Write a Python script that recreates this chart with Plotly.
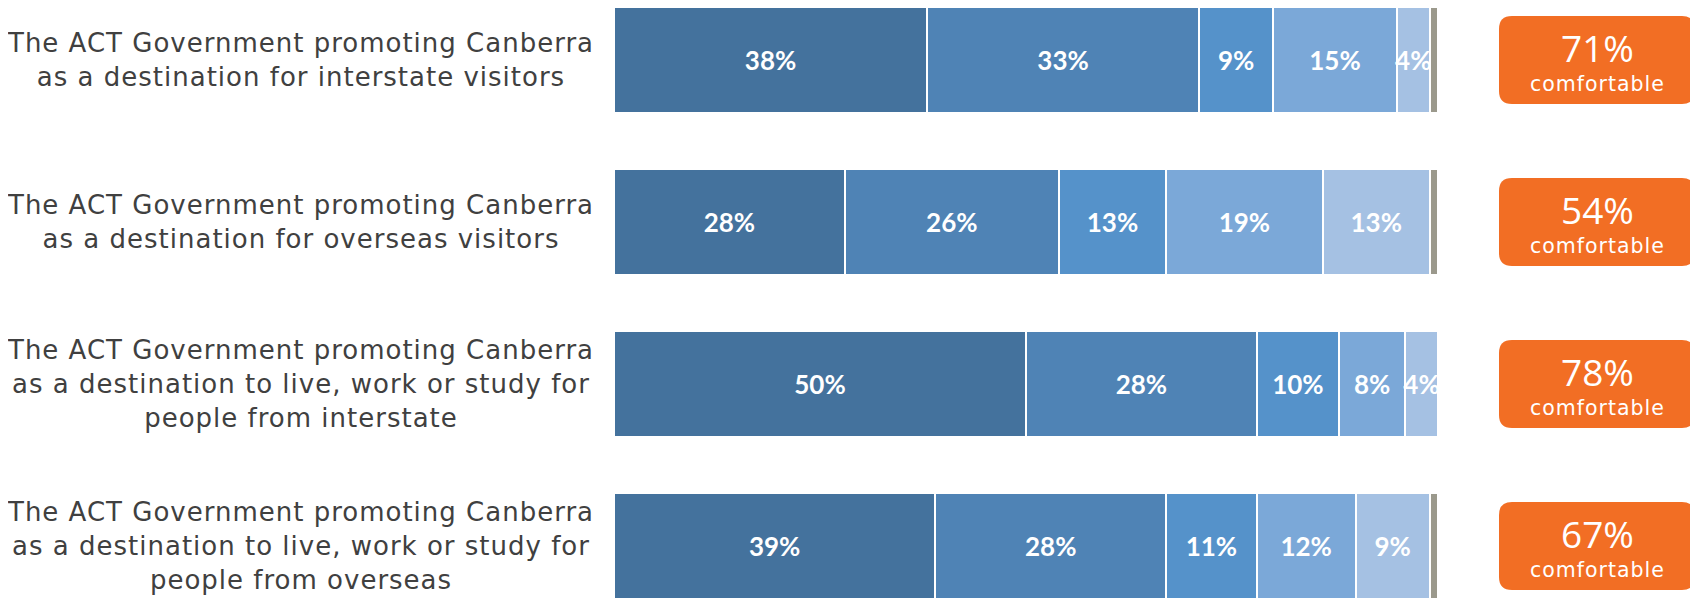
import plotly.graph_objects as go

# ---------------- data ----------------
labels = [
    "The ACT Government promoting Canberra<br>as a destination for interstate visitors",
    "The ACT Government promoting Canberra<br>as a destination for overseas visitors",
    "The ACT Government promoting Canberra<br>as a destination to live, work or study for<br>people from interstate",
    "The ACT Government promoting Canberra<br>as a destination to live, work or study for<br>people from overseas",
]
series_names = ["Very comfortable", "Somewhat comfortable", "Neither", "Somewhat uncomfortable",
                "Very uncomfortable", "Don't know"]
very_comfortable = [38, 28, 50, 39]
somewhat_comfortable = [33, 26, 28, 28]
neither = [9, 13, 10, 11]
somewhat_uncomfortable = [15, 19, 8, 12]
very_uncomfortable = [4, 13, 4, 9]
dont_know = [1, 1, 0, 1]
comfortable_total = [71, 54, 78, 67]

colors = ["#44729D", "#4F83B5", "#5592CA", "#7BA8D8", "#A5C1E3", "#9B998C"]

# ---------------- figure ----------------
W, H = 1690, 591            # page body adds an 8px margin
ML = 606
PX_PER_UNIT = 8.24          # pixels per percentage point
ROW_PX = 162                # pixels per row
XMAX = (W - ML) / PX_PER_UNIT
y0 = -52 / ROW_PX
y1 = y0 + H / ROW_PX

ypos = list(range(len(labels)))
series = [very_comfortable, somewhat_comfortable, neither, somewhat_uncomfortable,
          very_uncomfortable, dont_know]

fig = go.Figure()
for name, vals, col in zip(series_names, series, colors):
    show_text = name != "Don't know"
    fig.add_trace(go.Bar(
        y=ypos, x=vals, orientation="h", name=name,
        width=0.66,
        marker=dict(color=col, line=dict(color="white", width=2)),
        text=[f"{v}%" for v in vals] if show_text else None,
        textposition="inside" if show_text else "none",
        insidetextanchor="middle",
        textangle=0,
        constraintext="none",
        textfont=dict(family="Lato", size=26, color="white", weight="bold"),
        hoverinfo="skip",
    ))

shapes = []
annotations = []
bx0 = (1491 - ML) / PX_PER_UNIT
bx1 = (1687 - ML) / PX_PER_UNIT
bxc = (bx0 + bx1) / 2
bh = 88 / ROW_PX / 2
rx = 13 / PX_PER_UNIT
ry = 13 / ROW_PX
label_style = "letter-spacing:1px"
for i, (lab, tot) in enumerate(zip(labels, comfortable_total)):
    yc = ypos[i]
    ya, yb = yc - bh, yc + bh
    path = (f"M {bx0+rx},{ya} L {bx1-rx},{ya} Q {bx1},{ya} {bx1},{ya+ry} "
            f"L {bx1},{yb-ry} Q {bx1},{yb} {bx1-rx},{yb} L {bx0+rx},{yb} "
            f"Q {bx0},{yb} {bx0},{yb-ry} L {bx0},{ya+ry} Q {bx0},{ya} {bx0+rx},{ya} Z")
    shapes.append(dict(type="path", path=path, xref="x", yref="y",
                       fillcolor="#F26E24", line=dict(width=0), layer="above"))
    annotations.append(dict(x=bxc, y=yc - 13 / ROW_PX, xref="x", yref="y",
                            text=f"{tot}%", showarrow=False,
                            font=dict(family="Open Sans", size=37, color="white"),
                            xanchor="center", yanchor="middle"))
    annotations.append(dict(x=bxc, y=yc + 24 / ROW_PX, xref="x", yref="y",
                            text=f"<span style='{label_style}'>comfortable</span>", showarrow=False,
                            font=dict(family="DejaVu Sans", size=20.5, color="white"),
                            xanchor="center", yanchor="middle"))
    styled = "<br>".join(f"<span style='{label_style}'>{ln}</span>" for ln in lab.split("<br>"))
    annotations.append(dict(x=(292 - ML) / (W - ML), y=yc, xref="paper", yref="y",
                            text=styled, showarrow=False, align="center",
                            font=dict(family="DejaVu Sans", size=26, color="#404040"),
                            xanchor="center", yanchor="middle"))

fig.update_layout(
    width=W, height=H,
    margin=dict(l=ML, r=0, t=0, b=0),
    barmode="stack",
    showlegend=False,
    plot_bgcolor="white", paper_bgcolor="white",
    uniformtext=dict(minsize=26, mode="show"),
    xaxis=dict(range=[0, XMAX], visible=False, fixedrange=True),
    yaxis=dict(range=[y1, y0], visible=False, fixedrange=True),
    shapes=shapes,
    annotations=annotations,
)

fig.write_html("out.html")
